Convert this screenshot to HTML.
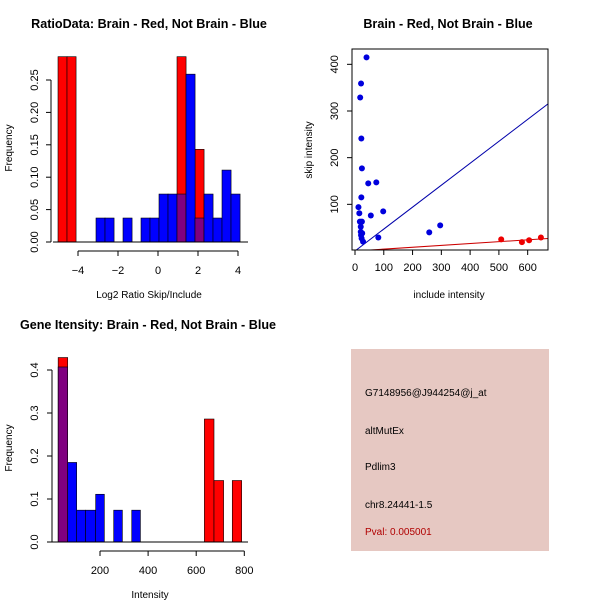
<!DOCTYPE html>
<html><head><meta charset="utf-8"><style>
body{margin:0;background:#fff}
svg{font-family:"Liberation Sans",sans-serif}
</style></head><body>
<svg id="c" width="600" height="600" viewBox="0 0 600 600" xmlns="http://www.w3.org/2000/svg">
<rect width="600" height="600" fill="#fff"/>
<g id="p1"></g>
<g id="p2"></g>
<g id="p3"></g>
<g id="p4">
<rect x="351" y="349" width="198" height="202" fill="#e6c8c2"/>
<text x="365" y="396" font-size="10">G7148956@J944254@j_at</text>
<text x="365" y="434" font-size="10">altMutEx</text>
<text x="365" y="470" font-size="10">Pdlim3</text>
<text x="365" y="508" font-size="10">chr8.24441-1.5</text>
<text x="365" y="535" font-size="10" fill="#b00000">Pval: 0.005001</text>
</g>
</svg>
<script>
// Panel 1 data: bins width ~0.454
const ratioRedStarts=[-5,-4.55,0.95,1.85];
const ratioRedFreq=[0.286,0.286,0.286,0.143];
const ratioBlueStarts=[-3.1,-2.65,-2.2,-1.75,-1.3,-0.85,-0.4,0.05,0.5,0.95,1.4,1.85,2.3,2.75,3.2,3.65];
const ratioBlueFreq=[0.037,0.037,0,0.037,0,0.037,0.037,0.074,0.074,0.074,0.259,0.037,0.074,0.037,0.111,0.074];
const ratioBinWidth=0.454;
const ratioXTicks=[-4,-2,0,2,4];
const ratioYTicks=["0.00","0.05","0.10","0.15","0.20","0.25"];
// Panel 2 data
const blueInclude=[40,21,18,22,24,46,74,22,12,98,15,55,17,24,20,20,21,23,28,25,81,258,296];
const blueSkip=[415,359,329,241,177,145,147,115,94,85,81,76,63,63,52,41,34,27,20,38,29,40,55];
const redInclude=[508,580,605,646];
const redSkip=[25,19,23,29];
const blueSlope=[0.47];
const redSlope=[0.04];
const scatXTicks=[0,100,200,300,400,500,600];
const scatYTicks=[100,200,300,400];
// Panel 3 data
const intBlueEdges=[26,65.6,103,140,182,218,257,293,332,368];
const intBlueFreq=[0.407,0.185,0.074,0.074,0.111,0,0.074,0,0.074];
const intRedLeft=[26,634,674,750];
const intRedRight=[65.6,674,714,789];
const intRedFreq=[0.429,0.286,0.143,0.143];
const intXTicks=[200,400,600,800];
const intYTicks=["0.0","0.1","0.2","0.3","0.4"];

const NS="http://www.w3.org/2000/svg";
function mk(parent,tag,attrs,txt){const e=document.createElementNS(NS,tag);for(const k in attrs)e.setAttribute(k,attrs[k]);if(txt!==undefined)e.textContent=txt;parent.appendChild(e);return e;}

// ---------- Panel 1 ----------
(function(){
const g=document.getElementById('p1');
const x=v=>158+v*20, y=v=>242-v*648;
let t=mk(g,'text',{x:149,y:28,'font-size':12.6,'font-weight':'bold','text-anchor':'middle'},'RatioData: Brain - Red, Not Brain - Blue');

ratioRedStarts.forEach((s,i)=>{const r=mk(g,'rect',{x:x(s),y:y(ratioRedFreq[i]),width:ratioBinWidth*20,height:ratioRedFreq[i]*648,fill:'#ff0000',stroke:'#000','stroke-width':0.6});
});
ratioBlueStarts.forEach((s,i)=>{const f=ratioBlueFreq[i];if(!f)return;
let col='#0000ff';const ri=ratioRedStarts.findIndex(v=>Math.abs(v-s)<0.01);if(ri>=0)col='#800080';
const r=mk(g,'rect',{x:x(s),y:y(f),width:ratioBinWidth*20,height:f*648,fill:col,stroke:'#000','stroke-width':0.6});
});
mk(g,'line',{x1:53,x2:248,y1:242,y2:242,stroke:'#000'});
mk(g,'line',{x1:x(-4),x2:x(4),y1:251,y2:251,stroke:'#000'});
ratioXTicks.forEach(v=>{mk(g,'line',{x1:x(v),x2:x(v),y1:251,y2:256,stroke:'#000'});
const l=mk(g,'text',{x:x(v),y:274,'font-size':11,'text-anchor':'middle'},String(v).replace('-','\u2212'));
});
mk(g,'line',{x1:51,x2:51,y1:y(0),y2:y(0.25),stroke:'#000'});
ratioYTicks.forEach(s=>{const v=+s;mk(g,'line',{x1:46,x2:51,y1:y(v),y2:y(v),stroke:'#000'});
const l=mk(g,'text',{x:38,y:y(v),'font-size':11,'text-anchor':'middle',transform:`rotate(-90 38 ${y(v)})`},s);
});
t=mk(g,'text',{x:149,y:298,'font-size':10,'text-anchor':'middle'},'Log2 Ratio Skip/Include');
t=mk(g,'text',{x:12,y:148,'font-size':10,'text-anchor':'middle',transform:'rotate(-90 12 148)'},'Frequency');
})();

// ---------- Panel 2 ----------
(function(){
const g=document.getElementById('p2');
const x=v=>355+v*0.2878, y=v=>251-v*0.4667;
let t=mk(g,'text',{x:448,y:28,'font-size':12.6,'font-weight':'bold','text-anchor':'middle'},'Brain - Red, Not Brain - Blue');

const cp=mk(g,'clipPath',{id:'clip2'});mk(cp,'rect',{x:352,y:49,width:196,height:201});
const lg=mk(g,'g',{'clip-path':'url(#clip2)'});
let ln=mk(lg,'line',{x1:x(0),y1:y(0),x2:x(700),y2:y(700*blueSlope[0]),stroke:'#0000aa','stroke-width':1});

ln=mk(lg,'line',{x1:x(0),y1:y(0),x2:x(700),y2:y(700*redSlope[0]),stroke:'#cc0000','stroke-width':1});

blueInclude.forEach((v,i)=>{const c=mk(g,'circle',{cx:x(v),cy:y(blueSkip[i]),r:3,fill:'#0000dd'});
});
redInclude.forEach((v,i)=>{const c=mk(g,'circle',{cx:x(v),cy:y(redSkip[i]),r:3,fill:'#ee0000'});
});
mk(g,'rect',{x:352,y:49,width:196,height:201,fill:'none',stroke:'#000'});
scatXTicks.forEach(v=>{mk(g,'line',{x1:x(v),x2:x(v),y1:250,y2:255,stroke:'#000'});
const l=mk(g,'text',{x:x(v),y:271,'font-size':11,'text-anchor':'middle'},String(v));
});
scatYTicks.forEach(v=>{mk(g,'line',{x1:347,x2:352,y1:y(v),y2:y(v),stroke:'#000'});
const l=mk(g,'text',{x:338,y:y(v),'font-size':11,'text-anchor':'middle',transform:`rotate(-90 338 ${y(v)})`},String(v));
});
t=mk(g,'text',{x:449,y:298,'font-size':10,'text-anchor':'middle'},'include intensity');
t=mk(g,'text',{x:312,y:150,'font-size':10,'text-anchor':'middle',transform:'rotate(-90 312 150)'},'skip intensity');
})();

// ---------- Panel 3 ----------
(function(){
const g=document.getElementById('p3');
const x=v=>51.9+v*0.2405, y=v=>542-v*430;
let t=mk(g,'text',{x:148,y:329,'font-size':12.6,'font-weight':'bold','text-anchor':'middle'},'Gene Itensity: Brain - Red, Not Brain - Blue');

intRedFreq.forEach((f,i)=>{const r=mk(g,'rect',{x:x(intRedLeft[i]),y:y(f),width:x(intRedRight[i])-x(intRedLeft[i]),height:f*430,fill:'#ff0000',stroke:'#000','stroke-width':0.6});
});
intBlueFreq.forEach((f,i)=>{if(!f)return;const a=intBlueEdges[i],b=intBlueEdges[i+1];
const col=intRedLeft.some(v=>Math.abs(v-a)<1)?'#800080':'#0000ff';
const r=mk(g,'rect',{x:x(a),y:y(f),width:x(b)-x(a),height:f*430,fill:col,stroke:'#000','stroke-width':0.6});
});
mk(g,'line',{x1:52,x2:248,y1:542,y2:542,stroke:'#000'});
mk(g,'line',{x1:x(200),x2:x(800),y1:551,y2:551,stroke:'#000'});
intXTicks.forEach(v=>{mk(g,'line',{x1:x(v),x2:x(v),y1:551,y2:556,stroke:'#000'});
const l=mk(g,'text',{x:x(v),y:574,'font-size':11,'text-anchor':'middle'},String(v));
});
mk(g,'line',{x1:52,x2:52,y1:y(0),y2:y(0.4),stroke:'#000'});
intYTicks.forEach(s=>{const v=+s;mk(g,'line',{x1:47,x2:52,y1:y(v),y2:y(v),stroke:'#000'});
const l=mk(g,'text',{x:38,y:y(v),'font-size':11,'text-anchor':'middle',transform:`rotate(-90 38 ${y(v)})`},s);
});
t=mk(g,'text',{x:150,y:598,'font-size':10,'text-anchor':'middle'},'Intensity');
t=mk(g,'text',{x:12,y:448,'font-size':10,'text-anchor':'middle',transform:'rotate(-90 12 448)'},'Frequency');
})();
</script>
</body></html>
